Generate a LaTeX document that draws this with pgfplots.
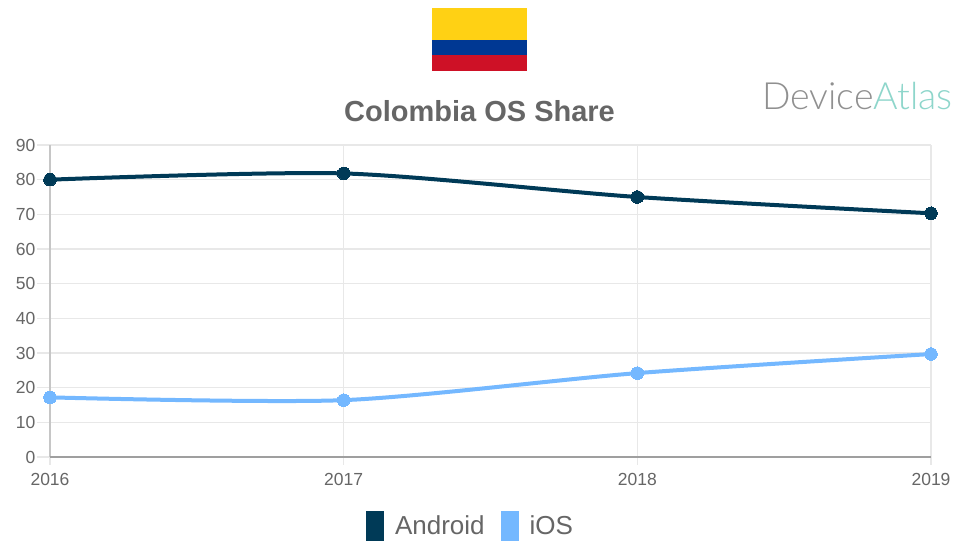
\documentclass[border=0pt]{standalone}
\usepackage{fontspec}
\setmainfont{Liberation Sans}
\newfontfamily\logofont{Lato Light}
\usepackage{pgfplots}
\pgfplotsset{compat=1.18}
\definecolor{andr}{HTML}{003A57}
\definecolor{ios}{HTML}{74B8FF}
\definecolor{gridc}{HTML}{E8E8E8}
\definecolor{txt}{HTML}{666666}
\begin{document}
\begin{tikzpicture}
\path[use as bounding box] (-50pt,-85pt) rectangle (905pt,457pt);
\fill[fill=white] (-50pt,-85pt) rectangle (905pt,457pt);
\fill[color={rgb,255:red,255;green,209;blue,20}] (382pt,417.5pt) rectangle (477pt,449pt);
\fill[color={rgb,255:red,0;green,56;blue,147}] (382pt,402pt) rectangle (477pt,417.5pt);
\fill[color={rgb,255:red,206;green,17;blue,38}] (382pt,386pt) rectangle (477pt,402pt);
\node[anchor=center,inner sep=0pt,text=txt,font=\fontsize{29}{30}\selectfont\bfseries] at (429.5pt,346pt) {Colombia OS Share};
\node[anchor=west,inner sep=0pt,font=\logofont\fontsize{37.5}{38}\selectfont] at (712pt,361pt) {\textcolor[HTML]{909090}{Device}\textcolor[HTML]{8ED6CB}{Atlas}};
\begin{axis}[
  at={(0pt,0pt)},anchor=origin,
  scale only axis,width=881pt,height=312pt,
  xmin=0,xmax=3,ymin=0,ymax=90,
  clip=false,
  xtick={0,1,2,3},xticklabels={2016,2017,2018,2019},
  ytick={0,10,...,90},
  axis line style={draw=none},
  grid=major,
  grid style={gridc,line width=1.3pt},
  major tick length=13pt,
  tick align=outside,
  tick pos=lower,
  ytick style={gridc,line width=1.3pt},
  xtick style={draw=none},
  tick label style={text=txt,font=\fontsize{17.5}{18}\selectfont},
  /pgf/number format/assume math mode=true,
  y tick label style={xshift=2pt,yshift=0pt},
  x tick label style={yshift=0.5pt},
  legend style={at={(axis cs:1.5,0)},anchor=north,xshift=-20pt,yshift=-54pt,draw=none,fill=none,
    legend columns=2,font=\fontsize{26}{28}\selectfont,text=txt,
    /tikz/every even column/.append style={column sep=14pt},inner sep=0pt},
  legend cell align=left,
]
\pgfplotsinvokeforeach{0,1,2,3}{\draw[gridc,line width=1.3pt] (axis cs:#1,0) -- ++(0,-8pt);}
\draw[color=gray!45,line width=1.2pt] (axis cs:0,0) -- (axis cs:0,90);
\draw[color=gray!75,line width=1.2pt] (axis cs:0,0) -- (axis cs:3,0);
\addplot[andr,line width=4pt,smooth,tension=0.45,mark=*,mark size=6.3pt,mark options={fill=andr,draw=andr,line width=0pt},
  legend image code/.code={\path[fill=andr,draw=none] (0pt,-15pt) rectangle (18pt,15pt); \path (25pt,0pt);}]
  coordinates {(0,80.0) (1,81.8) (2,75.0) (3,70.3)};
\addlegendentry{Android}
\addplot[ios,line width=4pt,smooth,tension=0.45,mark=*,mark size=6.3pt,mark options={fill=ios,draw=ios,line width=0pt},
  legend image code/.code={\path[fill=ios,draw=none] (0pt,-15pt) rectangle (18pt,15pt); \path (25pt,0pt);}]
  coordinates {(0,17.2) (1,16.4) (2,24.2) (3,29.7)};
\addlegendentry{iOS}
\end{axis}
\end{tikzpicture}
\end{document}
